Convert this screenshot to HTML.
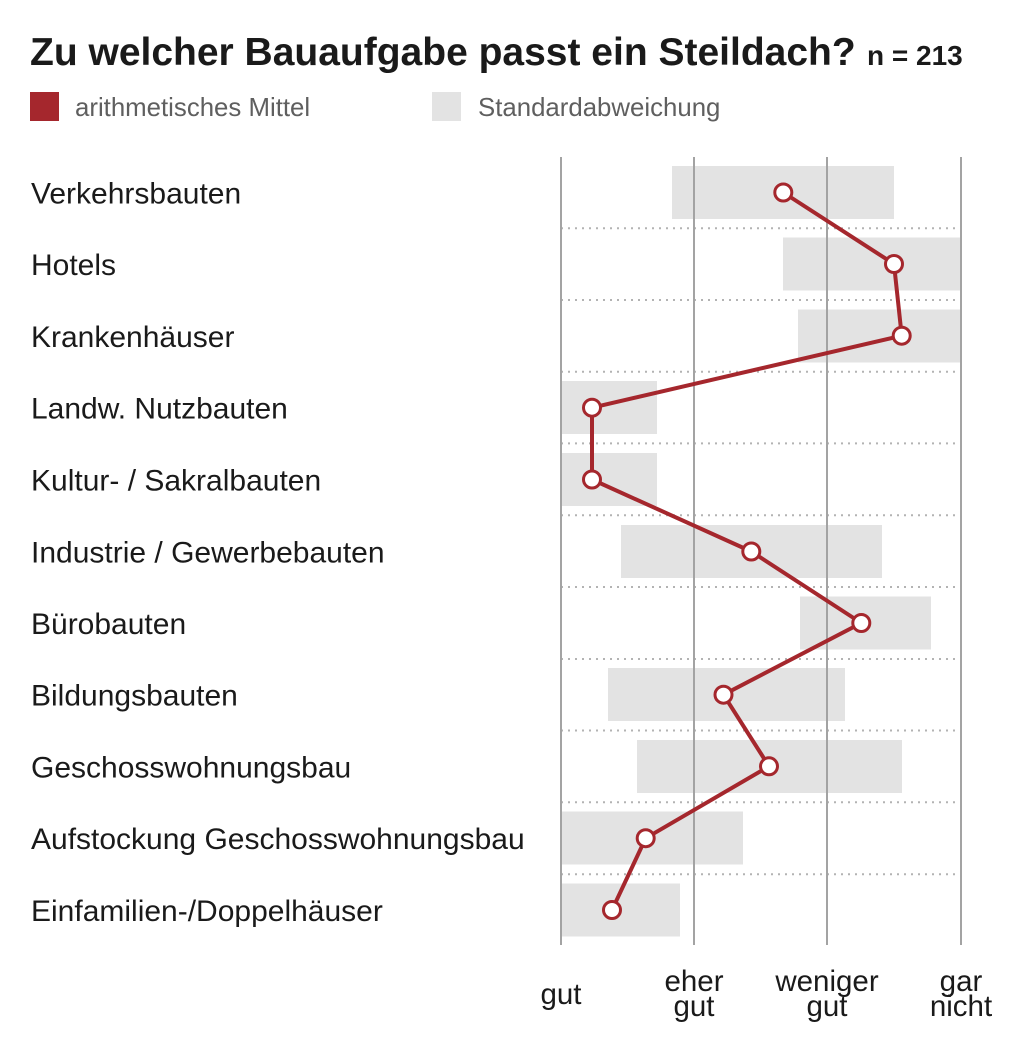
<!DOCTYPE html>
<html>
<head>
<meta charset="utf-8">
<style>
  html, body { margin: 0; padding: 0; background: #ffffff; }
  svg { display: block; }
  text { font-family: "Liberation Sans", Arial, sans-serif; }
</style>
</head>
<body>
<svg width="1030" height="1058" viewBox="0 0 1030 1058" xmlns="http://www.w3.org/2000/svg">
  <rect x="0" y="0" width="1030" height="1058" fill="#ffffff"/>

  <!-- Title -->
  <text x="30" y="65" font-size="39" font-weight="bold" fill="#1a1a1a">Zu welcher Bauaufgabe passt ein Steildach?</text>
  <text x="867" y="65" font-size="28" font-weight="bold" fill="#1a1a1a">n = 213</text>

  <!-- Legend -->
  <rect x="30" y="92" width="29" height="29" fill="#a5272d"/>
  <text x="75" y="116" font-size="25.8" fill="#5f5f5f">arithmetisches Mittel</text>
  <rect x="432" y="92" width="29" height="29" fill="#e3e3e3"/>
  <text x="478" y="116" font-size="25.8" fill="#5f5f5f">Standardabweichung</text>

  <!-- Std deviation bars -->
  <g fill="#e3e3e3">
    <rect x="672" y="166" width="222" height="53"/>
    <rect x="783" y="237.5" width="178" height="53"/>
    <rect x="798" y="309.5" width="163" height="53"/>
    <rect x="561" y="381" width="96" height="53"/>
    <rect x="561" y="453" width="96" height="53"/>
    <rect x="621" y="525" width="261" height="53"/>
    <rect x="800" y="596.5" width="131" height="53"/>
    <rect x="608" y="668" width="237" height="53"/>
    <rect x="637" y="740" width="265" height="53"/>
    <rect x="561" y="811.5" width="182" height="53"/>
    <rect x="561" y="883.5" width="119" height="53"/>
  </g>

  <!-- Dotted row separators -->
  <g stroke="#b3b3b3" stroke-width="2" stroke-dasharray="2 5">
    <line x1="561" y1="228.3" x2="961" y2="228.3"/>
    <line x1="561" y1="300" x2="961" y2="300"/>
    <line x1="561" y1="371.7" x2="961" y2="371.7"/>
    <line x1="561" y1="443.4" x2="961" y2="443.4"/>
    <line x1="561" y1="515.3" x2="961" y2="515.3"/>
    <line x1="561" y1="587" x2="961" y2="587"/>
    <line x1="561" y1="659" x2="961" y2="659"/>
    <line x1="561" y1="730.5" x2="961" y2="730.5"/>
    <line x1="561" y1="802.3" x2="961" y2="802.3"/>
    <line x1="561" y1="874.3" x2="961" y2="874.3"/>
  </g>

  <!-- Vertical grid lines -->
  <g stroke="#a3a3a3" stroke-width="2">
    <line x1="561" y1="157" x2="561" y2="945"/>
    <line x1="694" y1="157" x2="694" y2="945"/>
    <line x1="827" y1="157" x2="827" y2="945"/>
    <line x1="961" y1="157" x2="961" y2="945"/>
  </g>

  <!-- Mean line -->
  <polyline fill="none" stroke="#a5272d" stroke-width="4" stroke-linejoin="round"
    points="783.3,192.5 894,264 901.7,335.7 592,407.7 592,479.5 751.3,551.5 861.3,623 723.5,694.7 769,766.3 645.7,838.2 612,910"/>

  <!-- Points -->
  <g fill="#ffffff" stroke="#a5272d" stroke-width="3">
    <circle cx="783.3" cy="192.5" r="8.5"/>
    <circle cx="894" cy="264" r="8.5"/>
    <circle cx="901.7" cy="335.7" r="8.5"/>
    <circle cx="592" cy="407.7" r="8.5"/>
    <circle cx="592" cy="479.5" r="8.5"/>
    <circle cx="751.3" cy="551.5" r="8.5"/>
    <circle cx="861.3" cy="623" r="8.5"/>
    <circle cx="723.5" cy="694.7" r="8.5"/>
    <circle cx="769" cy="766.3" r="8.5"/>
    <circle cx="645.7" cy="838.2" r="8.5"/>
    <circle cx="612" cy="910" r="8.5"/>
  </g>

  <!-- Row labels -->
  <g font-size="30" fill="#1a1a1a">
    <text x="31" y="203.5">Verkehrsbauten</text>
    <text x="31" y="275">Hotels</text>
    <text x="31" y="347">Krankenhäuser</text>
    <text x="31" y="418.7">Landw. Nutzbauten</text>
    <text x="31" y="490.5">Kultur- / Sakralbauten</text>
    <text x="31" y="562.5">Industrie / Gewerbebauten</text>
    <text x="31" y="634">Bürobauten</text>
    <text x="31" y="705.7">Bildungsbauten</text>
    <text x="31" y="777.3">Geschosswohnungsbau</text>
    <text x="31" y="849.2">Aufstockung Geschosswohnungsbau</text>
    <text x="31" y="921">Einfamilien-/Doppelhäuser</text>
  </g>

  <!-- X axis labels -->
  <g font-size="29.5" fill="#1a1a1a" text-anchor="middle">
    <text x="561" y="1004">gut</text>
    <text x="694" y="991">eher</text>
    <text x="694" y="1016">gut</text>
    <text x="827" y="991">weniger</text>
    <text x="827" y="1016">gut</text>
    <text x="961" y="991">gar</text>
    <text x="961" y="1016">nicht</text>
  </g>
</svg>
</body>
</html>
